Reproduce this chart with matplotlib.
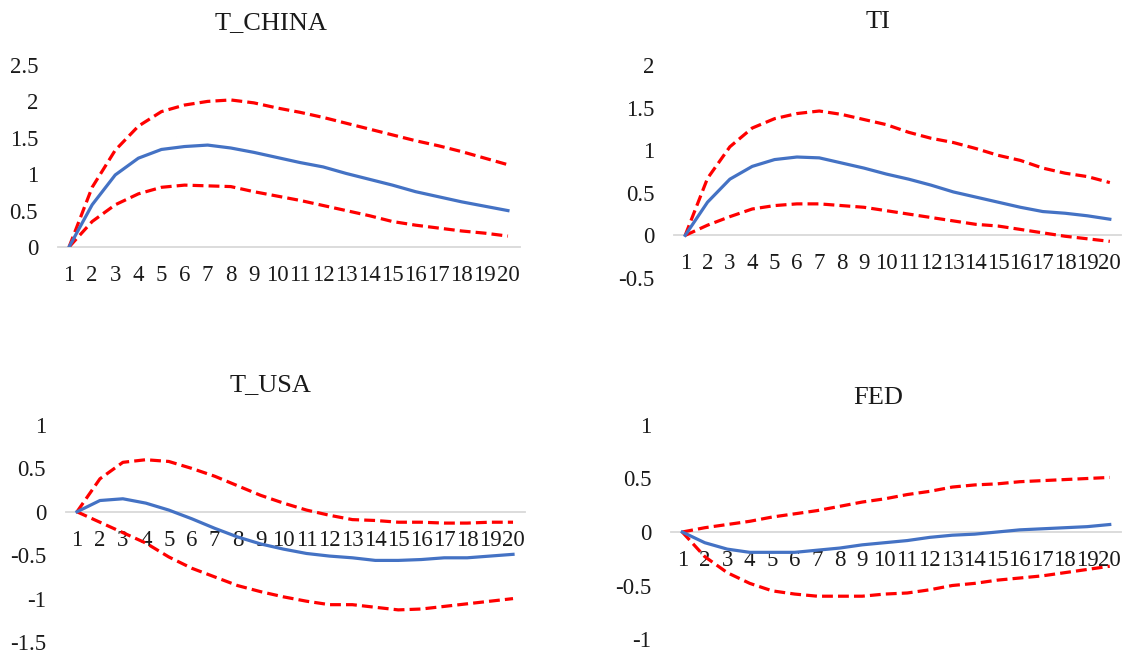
import numpy as np
import matplotlib
matplotlib.use("Agg")
import matplotlib.pyplot as plt

plt.rcParams["font.family"] = ["Liberation Serif", "DejaVu Serif"]

W, H = 1132, 653
BLUE = "#4472C4"
RED = "#FF0000"
GRID = "#D9D9D9"

periods = list(range(1, 21))

t_china_mid = [0, 0.58, 0.99, 1.22, 1.34, 1.38, 1.40, 1.36, 1.30, 1.23,
               1.16, 1.10, 1.01, 0.93, 0.85, 0.76, 0.69, 0.62, 0.56, 0.50]
t_china_up = [0, 0.82, 1.33, 1.66, 1.86, 1.95, 2.00, 2.02, 1.98, 1.91,
              1.85, 1.78, 1.70, 1.62, 1.54, 1.46, 1.39, 1.31, 1.22, 1.13]
t_china_lo = [0, 0.35, 0.58, 0.73, 0.82, 0.85, 0.84, 0.83, 0.76, 0.70,
              0.64, 0.57, 0.50, 0.43, 0.35, 0.30, 0.26, 0.22, 0.19, 0.15]

ti_mid = [0, 0.39, 0.66, 0.81, 0.89, 0.92, 0.91, 0.85, 0.79, 0.72,
          0.66, 0.59, 0.51, 0.45, 0.39, 0.33, 0.28, 0.26, 0.23, 0.19]
ti_up = [0, 0.67, 1.04, 1.26, 1.37, 1.43, 1.46, 1.42, 1.36, 1.30,
         1.21, 1.14, 1.09, 1.02, 0.94, 0.88, 0.79, 0.73, 0.69, 0.62]
ti_lo = [0, 0.12, 0.22, 0.31, 0.35, 0.37, 0.37, 0.35, 0.33, 0.29,
         0.25, 0.21, 0.17, 0.13, 0.11, 0.07, 0.03, -0.01, -0.04, -0.07]

t_usa_mid = [0, 0.13, 0.15, 0.10, 0.02, -0.08, -0.19, -0.29, -0.37, -0.43,
             -0.48, -0.51, -0.53, -0.56, -0.56, -0.55, -0.53, -0.53, -0.51, -0.49]
t_usa_up = [0, 0.38, 0.57, 0.60, 0.58, 0.50, 0.41, 0.30, 0.19, 0.10,
            0.02, -0.04, -0.09, -0.10, -0.12, -0.12, -0.13, -0.13, -0.12, -0.12]
t_usa_lo = [0, -0.12, -0.24, -0.36, -0.52, -0.65, -0.75, -0.85, -0.92, -0.98,
            -1.03, -1.07, -1.07, -1.10, -1.13, -1.12, -1.09, -1.06, -1.03, -1.00]

fed_mid = [0, -0.10, -0.16, -0.19, -0.19, -0.19, -0.17, -0.15, -0.12, -0.10,
           -0.08, -0.05, -0.03, -0.02, 0.00, 0.02, 0.03, 0.04, 0.05, 0.07]
fed_up = [0, 0.04, 0.07, 0.10, 0.14, 0.17, 0.20, 0.24, 0.28, 0.31,
          0.35, 0.38, 0.42, 0.44, 0.45, 0.47, 0.48, 0.49, 0.50, 0.51]
fed_lo = [0, -0.23, -0.38, -0.48, -0.55, -0.58, -0.60, -0.60, -0.60, -0.58,
          -0.57, -0.54, -0.50, -0.48, -0.45, -0.43, -0.41, -0.38, -0.35, -0.32]

titles = ["T_CHINA", "TI", "T_USA", "FED"]
y_ticks = [
    [0, 0.5, 1, 1.5, 2, 2.5],
    [-0.5, 0, 0.5, 1, 1.5, 2],
    [-1.5, -1, -0.5, 0, 0.5, 1],
    [-1, -0.5, 0, 0.5, 1],
]
series = [
    (t_china_mid, t_china_up, t_china_lo),
    (ti_mid, ti_up, ti_lo),
    (t_usa_mid, t_usa_up, t_usa_lo),
    (fed_mid, fed_up, fed_lo),
]

# pixel boxes: left, right, top, bottom ; title centre
boxes = [(57.5, 519.5, 65, 247), (674, 1121, 65, 278),
         (65.5, 524.5, 425, 642), (671, 1121, 425, 639)]
title_pos = [(271, 23), (878, 22), (270, 385), (878, 398)]


def fmt(v):
    return "%g" % v


fig = plt.figure(figsize=(W / 100, H / 100), dpi=100)

for i in range(4):
    l, r, t, b = boxes[i]
    ax = fig.add_axes([l / W, 1 - b / H, (r - l) / W, (b - t) / H])
    mid, up, lo = series[i]
    ax.plot(periods, up, color=RED, lw=2.3, linestyle=(0, (3.4, 1.6)))
    ax.plot(periods, lo, color=RED, lw=2.3, linestyle=(0, (3.4, 1.6)))
    ax.plot(periods, mid, color=BLUE, lw=2.3)
    ax.set_xlim(0.5, 20.5)
    ax.set_ylim(y_ticks[i][0], y_ticks[i][-1])
    ax.set_xticks(periods)
    ax.set_xticklabels([str(p) for p in periods])
    ax.set_yticks(y_ticks[i])
    ax.set_yticklabels([fmt(v) for v in y_ticks[i]])
    for s in ["top", "right", "left"]:
        ax.spines[s].set_visible(False)
    ax.spines["bottom"].set_position(("data", 0))
    ax.spines["bottom"].set_color(GRID)
    ax.spines["bottom"].set_linewidth(1.3)
    ax.spines["bottom"].set_zorder(0)
    ax.tick_params(axis="x", length=0, pad=13, labelsize=16.5, colors="#1a1a1a")
    ax.tick_params(axis="y", length=0, pad=14, labelsize=16.5, colors="#1a1a1a")
    ax.patch.set_alpha(0)
    tx, ty = title_pos[i]
    fig.text(tx / W, 1 - ty / H, titles[i], ha="center", va="center",
             fontsize=19, color="#1a1a1a")

fig.savefig("out.png", dpi=100)
